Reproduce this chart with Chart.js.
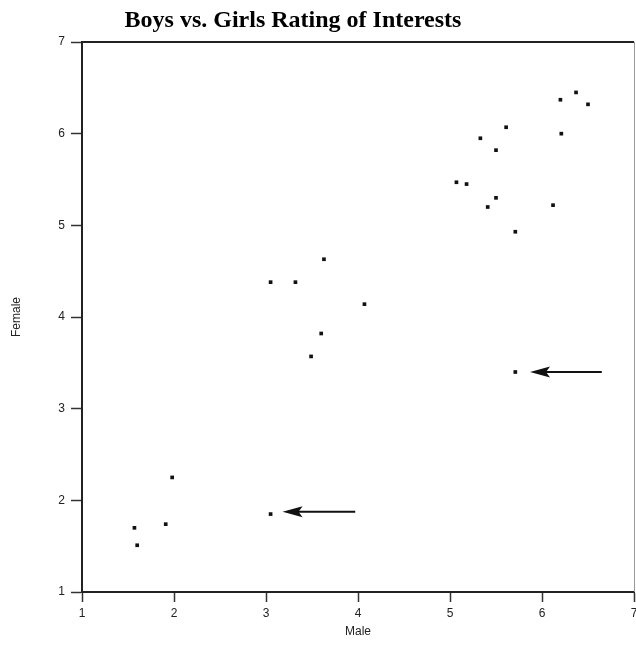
<!DOCTYPE html>
<html>
<head>
<meta charset="utf-8">
<script src="https://cdn.jsdelivr.net/npm/chart.js@4/dist/chart.umd.min.js"></script>
<style>
  html, body { margin: 0; padding: 0; background: #fff; overflow: hidden; }
  #wrap { width: 650px; height: 646px; }
</style>
</head>
<body>
<div id="wrap"><canvas id="mycanvas" width="650" height="646"></canvas></div>
<script>
// ratings
var male   = [1.57, 1.60, 1.91, 1.98, 3.05, 3.05, 3.32, 3.63, 3.60, 3.49, 4.07, 5.07, 5.18,
              5.33, 5.50, 5.61, 5.50, 5.41, 5.71, 5.71, 6.12, 6.20, 6.21, 6.37, 6.50];
var female = [1.70, 1.51, 1.74, 2.25, 1.85, 4.38, 4.38, 4.63, 3.82, 3.57, 4.14, 5.47, 5.45,
              5.95, 5.82, 6.07, 5.30, 5.20, 4.93, 3.40, 5.22, 6.37, 6.00, 6.45, 6.32];

// arrows pointing at the two outliers (tail -> tip, in data units)
var arrowTailX = [3.97, 6.65];
var arrowTipX  = [3.18, 5.87];
var arrowY     = [1.875, 3.40];

var axisTicks = [1, 2, 3, 4, 5, 6, 7];
var chartTitle = "Boys vs. Girls Rating of Interests";

var points = [];
for (var i = 0; i < male.length; i++) {
  points.push({ x: male[i], y: female[i] });
}

var extras = {
  id: 'extras',
  afterDatasetsDraw: function(chart) {
    var c = chart.ctx, a = chart.chartArea;
    var sx = chart.scales.x, sy = chart.scales.y;
    c.save();
    // top and right frame
    c.strokeStyle = '#222';
    c.lineWidth = 2;
    c.beginPath();
    c.moveTo(a.left, a.top);
    c.lineTo(a.right, a.top);
    c.stroke();
    c.strokeStyle = '#999';
    c.lineWidth = 1;
    c.beginPath();
    c.moveTo(a.right + 0.5, a.top);
    c.lineTo(a.right + 0.5, a.bottom);
    c.stroke();
    // arrows
    c.strokeStyle = '#111';
    c.fillStyle = '#111';
    for (var k = 0; k < arrowY.length; k++) {
      var x0 = sx.getPixelForValue(arrowTailX[k]);
      var x1 = sx.getPixelForValue(arrowTipX[k]);
      var y = sy.getPixelForValue(arrowY[k]);
      c.lineWidth = 2;
      c.beginPath();
      c.moveTo(x0, y);
      c.lineTo(x1 + 12, y);
      c.stroke();
      c.beginPath();
      c.moveTo(x1, y);
      c.lineTo(x1 + 20, y - 5.5);
      c.lineTo(x1 + 16, y);
      c.lineTo(x1 + 20, y + 5.5);
      c.closePath();
      c.fill();
    }
    // title
    c.fillStyle = '#000';
    c.font = 'bold 24px "Liberation Serif", "Times New Roman", serif';
    c.textAlign = 'center';
    c.textBaseline = 'middle';
    c.fillText(chartTitle, 293, 21);
    c.restore();
  }
};

var ctx = document.getElementById('mycanvas');

var ScatterGraph = new Chart(ctx, {
  type: 'scatter',
  data: {
    datasets: [{
      label: 'Ratings',
      data: points,
      pointStyle: 'rect',
      pointRadius: 2.6,
      pointBorderWidth: 0,
      backgroundColor: '#111',
      borderColor: '#111'
    }]
  },
  options: {
    responsive: false,
    animation: false,
    layout: { padding: { top: 42, right: 16, left: 0, bottom: 0 } },
    plugins: {
      legend: { display: false },
      tooltip: { enabled: false }
    },
    scales: {
      x: {
        type: 'linear',
        min: 1,
        max: 7,
        afterBuildTicks: function(axis) {
          axis.ticks = axisTicks.map(function(v) { return { value: v }; });
        },
        afterFit: function(axis) { axis.height = 54; },
        border: { display: true, color: '#222', width: 2 },
        grid: { drawOnChartArea: false, drawTicks: true, tickLength: 10, color: '#333', tickWidth: 1.5 },
        ticks: {
          padding: 4,
          color: '#222',
          font: { family: '"Liberation Sans", Arial, sans-serif', size: 12 }
        },
        title: {
          display: true,
          text: 'Male',
          color: '#222',
          font: { family: '"Liberation Sans", Arial, sans-serif', size: 12 },
          padding: { top: 0, bottom: 7 }
        }
      },
      y: {
        type: 'linear',
        min: 1,
        max: 7,
        afterBuildTicks: function(axis) {
          axis.ticks = axisTicks.map(function(v) { return { value: v }; });
        },
        afterFit: function(axis) { axis.width = 82; },
        border: { display: true, color: '#222', width: 2 },
        grid: { drawOnChartArea: false, drawTicks: true, tickLength: 11, color: '#333', tickWidth: 1.5 },
        ticks: {
          padding: 6,
          color: '#222',
          font: { family: '"Liberation Sans", Arial, sans-serif', size: 12 }
        },
        title: {
          display: true,
          text: 'Female',
          color: '#222',
          font: { family: '"Liberation Sans", Arial, sans-serif', size: 12 },
          padding: { top: 9, bottom: 0 }
        }
      }
    }
  },
  plugins: [extras]
});
</script>
</body>
</html>
